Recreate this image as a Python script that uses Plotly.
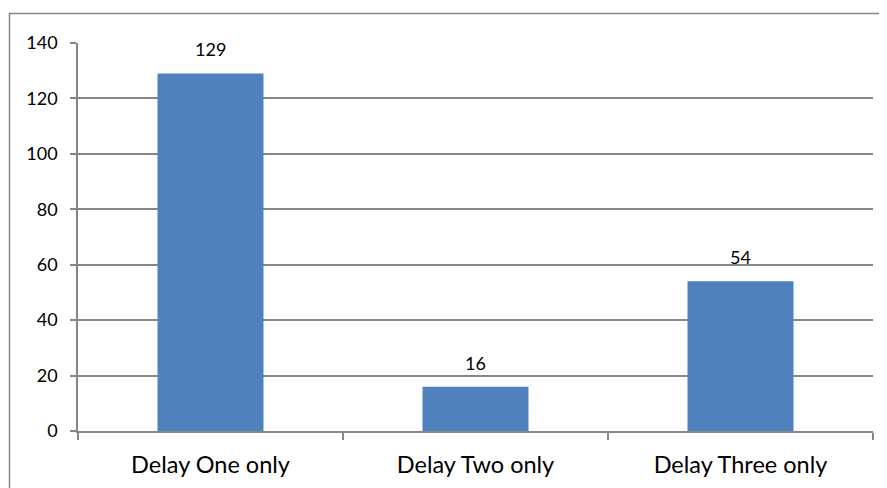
import plotly.graph_objects as go

# data
categories = ["Delay One only", "Delay Two only", "Delay Three only"]
counts = [129, 16, 54]
y_ticks = [0, 20, 40, 60, 80, 100, 120, 140]

# page body has an 8px margin, so the figure is offset by 8px
W, H = 887, 488
ml, mr, mt, mb = 70, 22, 35, 65
grey = "#868686"
font_name = "Lato, Open Sans, sans-serif"

fig = go.Figure()
fig.add_trace(go.Bar(
    x=categories,
    y=counts,
    marker=dict(color="#4F81BD", line=dict(width=0)),
    showlegend=False,
))

# value labels above each bar
for cat, val in zip(categories, counts):
    fig.add_annotation(x=cat, y=val, text=str(val), showarrow=False,
                       yshift=24, font=dict(size=18, color="black", family=font_name))

# outer chart border (left and top edges visible, rest cut off)
pw = W - ml - mr
ph = H - mt - mb
fig.add_shape(type="rect", xref="paper", yref="paper",
              x0=(1.5 - ml) / pw, x1=(W + 5 - ml) / pw,
              y0=-(mb + 5) / ph, y1=(H - mb - 5.5) / ph,
              line=dict(color=grey, width=1.5), fillcolor="rgba(0,0,0,0)", layer="below")

fig.update_layout(
    width=W, height=H,
    margin=dict(l=ml, r=mr, t=mt, b=mb),
    paper_bgcolor="white",
    plot_bgcolor="white",
    bargap=0.6,
    font=dict(family=font_name, color="black"),
    xaxis=dict(
        showline=True, linecolor=grey, linewidth=1.5,
        ticks="outside", ticklen=7, tickcolor=grey, tickwidth=1.5,
        tickson="boundaries",
        ticklabelstandoff=12,
        tickfont=dict(size=23.5, family=font_name),
        showgrid=False,
    ),
    yaxis=dict(
        range=[0, 140],
        tickvals=y_ticks,
        showline=True, linecolor=grey, linewidth=1.5,
        ticks="outside", ticklen=6, tickcolor=grey, tickwidth=1.5,
        ticklabelstandoff=9,
        showgrid=True, gridcolor=grey, gridwidth=1.5,
        zeroline=False,
        tickfont=dict(size=18, family=font_name),
    ),
)

fig.write_html("out.html")
